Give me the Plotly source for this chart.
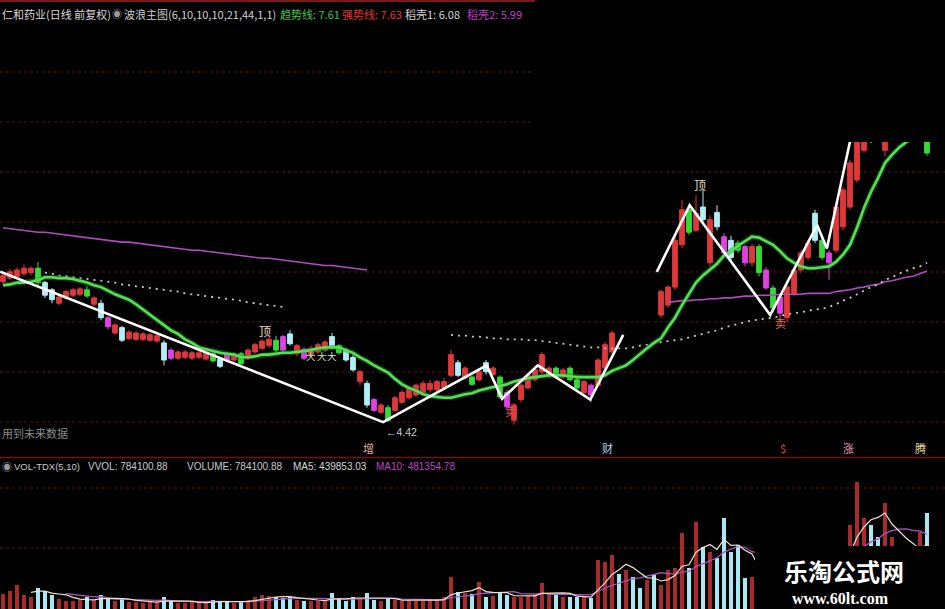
import plotly.graph_objects as go
import pandas as pd

W, H = 945, 609

# ---------------- data ----------------
# candle colour class per bar: r = up (red), w = down (cyan), g = green signal, m = magenta signal
kinds = ("rrrrr" "g" "ww" "rrrr" "g" "r" "w" "m" "r" "w" "rrrrr" "w" "m" "rrrrr" "g" "w" "m" "r" "g"
         "rrrr" "g" "m" "w" "r" "m" "rrr" "w" "g" "ww" "r" "w" "m" "r" "g" "rrrrrrrrr" "w" "r" "g" "r"
         "w" "r" "g" "m" "rrrrrr" "g" "r" "gg" "r" "m" "rrr" "wrwwrw" "rrrr" "g" "r" "w" "r" "w" "m"
         "w" "g" "m" "r" "g" "m" "g" "m" "rrrr" "w" "g" "m" "rrrrr" "ww" "rrrrrr" "g")

N6 = [None] * 6
open_ = [5.87, 5.91, 5.93, 5.96, 5.97, 6.02, 5.86, 5.78, 5.63, 5.69, 5.72, 5.73, 5.78, 5.62, 5.63,
         5.47, 5.30, 5.36, 5.24, 5.23, 5.23, 5.22, 5.21, 5.19, 5.11, 5.02, 5.03, 5.02, 5.03, 5.01,
         5.07, 5.01, 5.07, 5.00, 5.07, 5.02, 5.09, 5.13, 5.16, 5.22, 5.26, 5.29, 5.07, 5.12, 5.06,
         5.09, 5.11, 5.26, 5.16, 5.11, 5.03, 4.76, 4.74, 4.56, 4.42, 4.47, 4.44, 4.53, 4.58, 4.61,
         4.64, 4.67, 4.67, 4.69, 4.83, 4.97, 4.80, 4.81, 4.78, 4.97, 4.84, 4.81, 4.64, 4.33, 4.56,
         4.69, 4.78, 4.87, 4.82, 4.91, 4.81, 4.91, 4.78, 4.64, 4.72, 4.72, 4.91, 5.09] + N6 + \
        [5.50, 5.61, 5.81, 6.28, 6.67, 6.44, 6.70, 6.08, 6.64, 6.37, 6.33, 6.30, 6.26, 6.08, 6.26,
         6.00, 5.80, 5.70, 5.47, 5.74, 6.00, 6.14, 6.63, 6.33, 6.19, 6.22, 6.48, 6.70, 7.00, 7.33,
         7.78, 7.89, 7.33, 7.67, 7.78, 7.89, 7.89, 7.67, 7.50]
high_ = [5.98, 6.01, 6.03, 6.06, 6.04, 6.09, 5.88, 5.80, 5.72, 5.78, 5.80, 5.81, 5.82, 5.71, 5.67,
         5.49, 5.41, 5.38, 5.33, 5.32, 5.31, 5.30, 5.29, 5.22, 5.13, 5.11, 5.11, 5.10, 5.10, 5.09,
         5.09, 5.03, 5.09, 5.08, 5.09, 5.13, 5.19, 5.23, 5.26, 5.27, 5.28, 5.33, 5.18, 5.14, 5.16,
         5.19, 5.22, 5.30, 5.18, 5.13, 5.06, 4.89, 4.77, 4.58, 4.52, 4.50, 4.60, 4.67, 4.71, 4.74,
         4.77, 4.78, 4.78, 4.80, 5.11, 5.00, 4.93, 4.83, 4.91, 5.00, 4.93, 4.83, 4.67, 4.52, 4.74,
         4.86, 4.94, 5.09, 4.93, 4.93, 4.91, 4.93, 4.80, 4.78, 4.74, 5.02, 5.20, 5.33] + N6 + \
        [5.78, 5.83, 6.38, 6.78, 6.72, 6.83, 6.89, 6.61, 6.72, 6.41, 6.38, 6.33, 6.28, 6.29, 6.29,
         6.03, 5.83, 5.73, 5.84, 6.03, 6.22, 6.33, 6.67, 6.37, 6.22, 6.73, 6.92, 7.22, 7.50, 7.72,
         7.83, 7.94, 7.61, 8.06, 8.11, 8.17, 8.17, 7.94, 7.56]
low_ = [5.84, 5.89, 5.91, 5.93, 5.94, 5.80, 5.69, 5.63, 5.61, 5.67, 5.70, 5.71, 5.69, 5.60, 5.44,
        5.34, 5.28, 5.20, 5.22, 5.21, 5.21, 5.20, 5.19, 4.94, 5.00, 5.00, 5.01, 5.00, 5.01, 4.99,
        4.97, 4.91, 4.98, 4.98, 4.93, 5.00, 5.07, 5.11, 5.13, 5.09, 5.09, 5.16, 5.04, 5.00, 5.03,
        5.07, 5.09, 5.12, 5.06, 4.98, 4.87, 4.72, 4.47, 4.42, 4.40, 4.31, 4.42, 4.51, 4.56, 4.59,
        4.62, 4.64, 4.64, 4.67, 4.81, 4.81, 4.78, 4.71, 4.76, 4.84, 4.82, 4.57, 4.44, 4.28, 4.53,
        4.67, 4.76, 4.84, 4.80, 4.79, 4.79, 4.76, 4.67, 4.62, 4.53, 4.70, 4.89, 5.07] + N6 + \
       [5.47, 5.58, 5.78, 6.24, 6.39, 6.42, 6.52, 6.04, 6.44, 6.16, 6.11, 6.19, 6.04, 6.04, 5.93,
        5.78, 5.53, 5.42, 5.42, 5.71, 5.97, 6.11, 6.30, 6.11, 5.89, 6.19, 6.44, 6.67, 6.97, 7.30,
        7.41, 7.52, 7.26, 7.63, 7.74, 7.86, 7.86, 7.61, 7.27]
close_ = [5.94, 5.98, 6.00, 6.02, 6.02, 5.86, 5.72, 5.67, 5.70, 5.76, 5.78, 5.79, 5.71, 5.69, 5.47,
          5.37, 5.39, 5.22, 5.31, 5.30, 5.29, 5.28, 5.27, 5.00, 5.02, 5.09, 5.09, 5.08, 5.08, 5.07,
          4.99, 4.93, 5.00, 5.06, 4.96, 5.11, 5.17, 5.21, 5.23, 5.11, 5.11, 5.18, 5.16, 5.02, 5.13,
          5.17, 5.20, 5.14, 5.08, 5.00, 4.89, 4.87, 4.50, 4.44, 4.50, 4.33, 4.58, 4.64, 4.69, 4.72,
          4.74, 4.74, 4.76, 4.76, 5.06, 4.83, 4.91, 4.73, 4.87, 4.87, 4.91, 4.59, 4.48, 4.50, 4.72,
          4.83, 4.89, 5.06, 4.91, 4.81, 4.89, 4.78, 4.69, 4.76, 4.61, 5.00, 5.17, 5.30] + N6 + \
         [5.76, 5.81, 6.33, 6.67, 6.42, 6.63, 6.56, 6.56, 6.48, 6.19, 6.14, 6.22, 6.08, 6.26, 5.97,
          5.80, 5.58, 5.52, 5.81, 6.00, 6.19, 6.30, 6.33, 6.14, 6.08, 6.70, 6.89, 7.19, 7.44, 7.67,
          7.44, 7.56, 7.56, 8.00, 8.06, 8.11, 8.11, 7.89, 7.30]

# 趋势线 (green)
trend_line = [5.83, 5.84, 5.86, 5.86, 5.87, 5.89, 5.92, 5.92, 5.91, 5.91, 5.90, 5.88, 5.86, 5.83, 5.81,
              5.77, 5.73, 5.70, 5.67, 5.62, 5.56, 5.50, 5.44, 5.39, 5.33, 5.29, 5.23, 5.19, 5.14, 5.12,
              5.10, 5.08, 5.07, 5.06, 5.03, 5.03, 5.04, 5.06, 5.06, 5.07, 5.08, 5.08, 5.09, 5.10, 5.11,
              5.13, 5.14, 5.14, 5.14, 5.11, 5.08, 5.03, 4.99, 4.94, 4.90, 4.86, 4.79, 4.73, 4.69, 4.66,
              4.62, 4.60, 4.59, 4.58, 4.58, 4.60, 4.62, 4.63, 4.66, 4.68, 4.70, 4.71, 4.73, 4.76, 4.78,
              4.80, 4.81, 4.82, 4.83, 4.83, 4.83, 4.82, 4.81, 4.81, 4.81, 4.81, 4.83, 4.88, 4.91, 4.94,
              5.00, 5.07, 5.13, 5.19, 5.24, 5.36, 5.47, 5.61, 5.73, 5.86, 5.94, 6.01, 6.07, 6.16, 6.21,
              6.27, 6.32, 6.37, 6.36, 6.32, 6.28, 6.21, 6.13, 6.08, 6.04, 6.02, 6.02, 6.03, 6.04, 6.09,
              6.17, 6.28, 6.47, 6.69, 6.87, 7.02, 7.19, 7.28, 7.36, 7.42, 7.47, 7.52, 7.61]

# 稻壳1 (white dotted)
husk1 = [None] * 6 + \
        [5.97, 5.96, 5.94, 5.93, 5.92, 5.91, 5.90, 5.89, 5.88, 5.87, 5.86, 5.84, 5.83, 5.82, 5.81,
         5.80, 5.79, 5.78, 5.77, 5.76, 5.74, 5.73, 5.72, 5.71, 5.70, 5.69, 5.68, 5.67, 5.66, 5.64,
         5.63, 5.62, 5.61, 5.60, 5.59] + [None] * 23 + \
        [5.28, 5.27, 5.27, 5.26, 5.26, 5.25, 5.24, 5.24, 5.23, 5.23, 5.23, 5.22, 5.22, 5.21, 5.20,
         5.19, 5.18, 5.17, 5.16, 5.15, 5.14, 5.14, 5.13, 5.13, 5.13, 5.13, 5.14, 5.16, 5.17, 5.19,
         5.20, 5.21, 5.22, 5.23, 5.25, 5.27, 5.29, 5.31, 5.33, 5.36, 5.38, 5.40, 5.42, 5.44, 5.45,
         5.46, 5.47, 5.49, 5.51, 5.52, 5.53, 5.55, 5.56, 5.57, 5.59, 5.62, 5.66, 5.69, 5.73, 5.77,
         5.81, 5.84, 5.89, 5.92, 5.96, 5.99, 6.02, 6.04, 6.08]

# 稻壳2 (purple)
husk2 = [6.47, 6.46, 6.45, 6.44, 6.43, 6.42, 6.42, 6.41, 6.40, 6.39, 6.38, 6.37, 6.36, 6.35, 6.34,
         6.33, 6.32, 6.31, 6.31, 6.30, 6.29, 6.28, 6.27, 6.26, 6.25, 6.24, 6.23, 6.22, 6.22, 6.21,
         6.20, 6.19, 6.18, 6.17, 6.16, 6.15, 6.14, 6.13, 6.13, 6.12, 6.11, 6.10, 6.09, 6.08, 6.07,
         6.06, 6.05, 6.05, 6.04, 6.03, 6.02, 6.01, 6.00] + [None] * 42 + \
        [5.64, 5.65, 5.66, 5.66, 5.67, 5.67, 5.68, 5.68, 5.69, 5.69, 5.70, 5.71, 5.71, 5.72, 5.72,
         5.72, 5.73, 5.73, 5.73, 5.73, 5.74, 5.74, 5.74, 5.74, 5.76, 5.77, 5.78, 5.80, 5.81, 5.83,
         5.84, 5.87, 5.88, 5.90, 5.92, 5.93, 5.96, 5.99]

# wave zig-zag pivots (bar position, price)
wave_x = [-0.4, 54.3, 69.1, 71.3, 76.4, 83.9, 88.6, None, 93.4, 98.1, 109.6, 116.3, 117.7, 122.4]
wave_y = [5.98, 4.31, 4.94, 4.57, 4.94, 4.56, 5.28, None, 5.98, 6.72, 5.50, 6.50, 6.24, 7.93]

volume = [123000, 147600, 196800, 114800, 98400, 172200, 147600, 114800, 82000, 65600,
          65600, 73800, 98400, 73800, 114800, 82000, 65600, 90200, 57400, 57400,
          49200, 57400, 57400, 98400, 65600, 49200, 49200, 57400, 49200, 57400,
          73800, 65600, 57400, 49200, 65600, 73800, 98400, 114800, 106600, 98400,
          90200, 98400, 73800, 65600, 65600, 65600, 73800, 131200, 82000, 65600,
          98400, 82000, 131200, 73800, 65600, 82000, 73800, 65600, 73800, 65600,
          65600, 73800, 82000, 98400, 262400, 139400, 131200, 123000, 221400, 98400,
          106600, 131200, 114800, 98400, 98400, 106600, 123000, 213200, 114800, 114800,
          98400, 98400, 98400, 98400, 90200, 401800, 385400, 442800, 287000, 319800,
          262400, 172200, 237800, 278800, 196800, 319800, 336200, 623200, 336200, 713400,
          508400, 467400, 418200, 746200, 467400, 524800, 254200, 262400, 213200, 196800,
          221400, 287000, 369000, 328000, 311600, 344400, 410000, 369000, 328000, 393600,
          492000, 688800, 1041400, 746200, 688800, 590400, 869200, 590400, 451000, 410000,
          369000, 631400, 784100]

n = len(close_)
assert len(kinds) == n and len(open_) == n and len(high_) == n and len(low_) == n
assert len(trend_line) == n and len(husk1) == n and len(husk2) == n and len(volume) == n
idx = list(range(n))

vs = pd.Series(volume, dtype=float)
ma5 = vs.rolling(5).mean().tolist()
ma10 = vs.rolling(10).mean().tolist()

# ---------------- figure ----------------
fig = go.Figure()

kind_colors = {'r': '#e0383a', 'w': '#b2eef6', 'g': '#35dc35', 'm': '#e040e4'}
for k, col in kind_colors.items():
    sel = [kinds[i] == k for i in idx]
    fig.add_trace(go.Candlestick(
        x=idx,
        open=[v if s else None for v, s in zip(open_, sel)],
        high=[v if s else None for v, s in zip(high_, sel)],
        low=[v if s else None for v, s in zip(low_, sel)],
        close=[v if s else None for v, s in zip(close_, sel)],
        increasing=dict(line=dict(color=col, width=1), fillcolor=col),
        decreasing=dict(line=dict(color=col, width=1), fillcolor=col),
        whiskerwidth=0, hoverinfo='skip', showlegend=False, xaxis='x', yaxis='y'))

fig.add_trace(go.Scatter(x=idx, y=husk2, mode='lines', line=dict(color='#b04cc0', width=1.6),
                         connectgaps=False, hoverinfo='skip', xaxis='x', yaxis='y'))
fig.add_trace(go.Scatter(x=idx, y=husk1, mode='lines', line=dict(color='#c8c8c8', width=1.8, dash='2px,5px'),
                         connectgaps=False, hoverinfo='skip', xaxis='x', yaxis='y'))
fig.add_trace(go.Scatter(x=idx, y=trend_line, mode='lines', line=dict(color='#2f8f2f', width=5),
                         opacity=0.45, hoverinfo='skip', xaxis='x', yaxis='y'))
fig.add_trace(go.Scatter(x=idx, y=trend_line, mode='lines', line=dict(color='#55e055', width=2.6),
                         hoverinfo='skip', xaxis='x', yaxis='y'))
fig.add_trace(go.Scatter(x=wave_x, y=wave_y, mode='lines', line=dict(color='#ffffff', width=2.6),
                         connectgaps=False, hoverinfo='skip', xaxis='x', yaxis='y'))

vol_colors = ['#a82a2a' if k == 'r' else '#a6e9f2' for k in kinds]
fig.add_trace(go.Bar(x=idx, y=volume, marker=dict(color=vol_colors, line=dict(width=0)), width=0.62,
                     hoverinfo='skip', xaxis='x2', yaxis='y2'))
fig.add_trace(go.Scatter(x=idx, y=ma10, mode='lines', line=dict(color='#b055c8', width=1.2),
                         hoverinfo='skip', xaxis='x2', yaxis='y2'))
fig.add_trace(go.Scatter(x=idx, y=ma5, mode='lines', line=dict(color='#efe3d0', width=1.2),
                         hoverinfo='skip', xaxis='x2', yaxis='y2'))


def px(x):
    return x / W


def py(y):
    return 1 - y / H


xr = [-3 / 7, 942 / 7]
fig.update_layout(
    width=W, height=H, margin=dict(l=0, r=0, t=0, b=0),
    paper_bgcolor='#000000', plot_bgcolor='rgba(0,0,0,0)',
    showlegend=False, boxgap=0.25, boxgroupgap=0.1,
    bargap=0,
    xaxis=dict(domain=[0, 1], range=xr, visible=False, rangeslider=dict(visible=False), anchor='y'),
    yaxis=dict(domain=[py(457), py(142)], range=[9 - 457 / 90, 9 - 142 / 90], visible=False),
    xaxis2=dict(domain=[0, 1], range=xr, visible=False, anchor='y2'),
    yaxis2=dict(domain=[0, py(458)], range=[0, (609 - 458) * 8200], visible=False),
)

grid = '#5a1616'
shapes = []
for gy in [72, 122]:
    shapes.append(dict(type='line', xref='paper', yref='paper', x0=0, x1=px(532), y0=py(gy), y1=py(gy),
                       line=dict(color=grid, width=1, dash='dot'), layer='below'))
for gy in [172, 222, 272, 322, 372, 422, 488, 548]:
    shapes.append(dict(type='line', xref='paper', yref='paper', x0=0, x1=1, y0=py(gy), y1=py(gy),
                       line=dict(color=grid, width=1, dash='dot'), layer='below'))
shapes.append(dict(type='line', xref='paper', yref='paper', x0=0, x1=px(535), y0=py(1), y1=py(1),
                   line=dict(color='#7a1a1a', width=2), layer='below'))
shapes.append(dict(type='line', xref='paper', yref='paper', x0=0, x1=1, y0=py(457.5), y1=py(457.5),
                   line=dict(color='#6e1414', width=1.5), layer='below'))
# watermark panel
shapes.append(dict(type='rect', xref='paper', yref='paper', x0=px(755), x1=1, y0=0, y1=py(546),
                   fillcolor='#000000', line=dict(width=0), layer='above'))
fig.update_layout(shapes=shapes)

ann = []
CJK = 'Noto Sans CJK SC'
LAT = 'Liberation Sans'


def txt(x, y, s, color, size=11, family=CJK, anchor='left'):
    ann.append(dict(x=px(x), y=py(y), xref='paper', yref='paper', text=s, showarrow=False,
                    xanchor=anchor, yanchor='middle', font=dict(family=family, size=size, color=color)))


# top header
txt(0, 14, '仁和药业(日线 前复权)', '#d8d8d8', 11)
txt(110, 14, '◉', '#9a9a9a', 10)
txt(122, 14, '波浪主图(6,10,10,10,21,44,1,1)', '#d0d0d0', 11)
txt(278, 14, '趋势线: 7.61', '#3fc83f', 11)
txt(340, 14, '强势线: 7.63', '#e83030', 11)
txt(403, 14, '稻壳1: 6.08', '#d8d8d8', 11)
txt(465, 14, '稻壳2: 5.99', '#c43cc4', 11)

# volume header
txt(0, 467, '◉', '#9a9a9a', 10)
txt(12, 467, 'VOL-TDX(5,10)', '#c8c8c8', 9.5, LAT)
txt(86, 467, 'VVOL: 784100.88', '#c8c8c8', 10, LAT)
txt(185, 467, 'VOLUME: 784100.88', '#c8c8c8', 10, LAT)
txt(291, 467, 'MA5: 439853.03', '#d8d8d8', 10, LAT)
txt(374, 467, 'MA10: 481354.78', '#c040c8', 10, LAT)

# chart signals
txt(265, 330, '顶', '#e6dcc0', 12, anchor='center')
txt(700, 184, '顶', '#e6dcc0', 12, anchor='center')
for xx in [311, 321.5, 332]:
    txt(xx, 356, '大', '#c8e6c8', 9.5, anchor='center')
txt(510, 411, '卖', '#e05050', 11, anchor='center')
txt(780, 323, '卖', '#e06a40', 11, anchor='center')
txt(384, 432, '←4.42', '#d0d0d0', 10.5, LAT)
txt(0, 433, '用到未来数据', '#8a8a8a', 11)

# bottom signal labels
txt(368, 448, '增', '#e8b8a0', 11, anchor='center')
txt(607, 448, '财', '#a8d8ec', 11, anchor='center')
txt(783, 448, '$', '#e04040', 11, anchor='center')
txt(848, 448, '涨', '#e8a0b4', 11, anchor='center')
txt(920, 448, '腾', '#e8d8a0', 11, anchor='center')

# watermark
txt(844, 570, '<b>乐淘公式网</b>', '#ffffff', 24, anchor='center')
txt(840, 598, '<b>www.60lt.com</b>', '#ffffff', 16, 'Liberation Serif', anchor='center')

fig.update_layout(annotations=ann)

fig.write_html("out.html",
               config={'displayModeBar': False, 'staticPlot': True},
               post_script="document.body.style.margin='0';document.body.style.padding='0';"
                           "document.body.style.background='#000';document.body.style.overflow='hidden';")
